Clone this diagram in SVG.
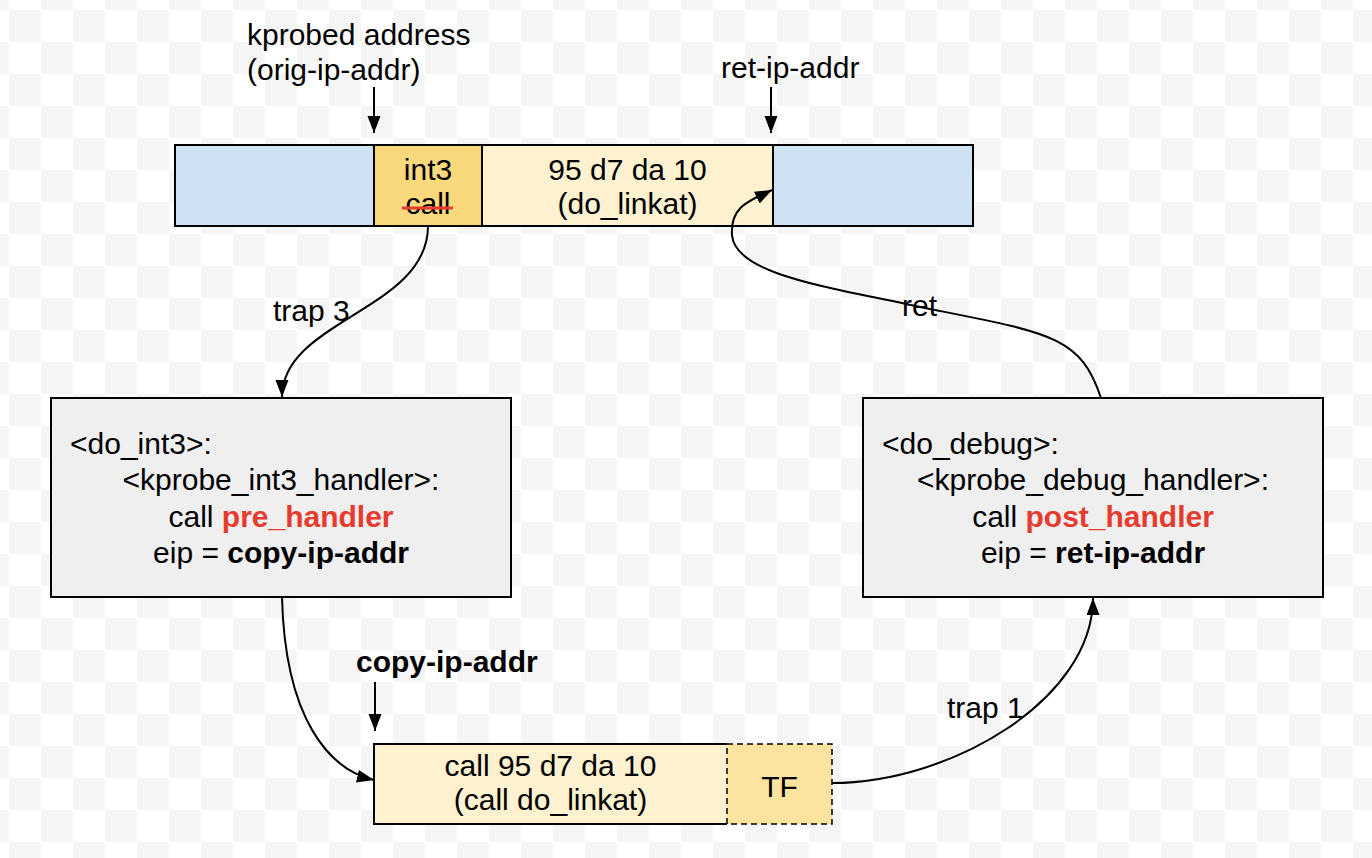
<svg xmlns="http://www.w3.org/2000/svg" width="1372" height="858" viewBox="0 0 1372 858">
<defs>
<pattern id="checker" patternUnits="userSpaceOnUse" x="9" y="10" width="64" height="64">
<rect width="64" height="64" fill="#ffffff"/>
<rect x="0" y="0" width="32" height="32" fill="#f5f5f5"/>
<rect x="32" y="32" width="32" height="32" fill="#f5f5f5"/>
</pattern>
<marker id="arr" markerUnits="userSpaceOnUse" markerWidth="18" markerHeight="14" refX="17" refY="6.5" orient="auto">
<path d="M0,0 L17,6.5 L0,13 z" fill="#000"/>
</marker>
<style>
text{font-family:"Liberation Sans",Arial,sans-serif;font-size:30px;fill:#000}
.c{text-anchor:middle}
.b{font-weight:bold}
.red{fill:#e63b2e;font-weight:bold}
.box{stroke:#000;stroke-width:2}
.blue{fill:#cfe2f3}
.y1{fill:#fad97c}
.y3{fill:#fdf1cf}
.gray{fill:#efefef}
.conn{fill:none;stroke:#000;stroke-width:2}
</style>
</defs>
<rect width="1372" height="858" fill="url(#checker)"/>

<g id="labels">
<text x="247" y="45">kprobed address</text>
<text x="247" y="80">(orig-ip-addr)</text>
<text x="721" y="78">ret-ip-addr</text>
<text x="356" y="672" class="b">copy-ip-addr</text>
</g>

<g id="bar-left">
<rect x="175" y="145" width="199" height="81" class="box blue"/>
</g>
<g id="bar-int3">
<rect x="374" y="145" width="108" height="81" class="box y1"/>
<text x="428" y="180" class="c">int3</text>
<text x="428" y="214" class="c">call</text>
<line x1="402" y1="208" x2="453" y2="208" stroke="#e63b2e" stroke-width="3"/>
</g>
<g id="bar-linkat">
<rect x="482" y="145" width="291" height="81" class="box y3"/>
<text x="627.5" y="180" class="c">95 d7 da 10</text>
<text x="627.5" y="214" class="c">(do_linkat)</text>
</g>
<g id="bar-right">
<rect x="773" y="145" width="200" height="81" class="box blue"/>
</g>

<g id="do-int3">
<rect x="51" y="398" width="460" height="199" class="box gray"/>
<text x="70" y="454">&lt;do_int3&gt;:</text>
<text x="281" y="490" class="c">&lt;kprobe_int3_handler&gt;:</text>
<text x="281" y="527" class="c">call <tspan class="red">pre_handler</tspan></text>
<text x="281" y="563" class="c">eip = <tspan class="b">copy-ip-addr</tspan></text>
</g>

<g id="do-debug">
<rect x="863" y="398" width="460" height="199" class="box gray"/>
<text x="882" y="454">&lt;do_debug&gt;:</text>
<text x="1093" y="490" class="c">&lt;kprobe_debug_handler&gt;:</text>
<text x="1093" y="527" class="c">call <tspan class="red">post_handler</tspan></text>
<text x="1093" y="563" class="c">eip = <tspan class="b">ret-ip-addr</tspan></text>
</g>

<g id="copy-call">
<rect x="374" y="744" width="353" height="80" class="y3"/>
<path d="M727,744 H374 V824 H727" class="conn"/>
<text x="550.5" y="776" class="c">call 95 d7 da 10</text>
<text x="550.5" y="810" class="c">(call do_linkat)</text>
</g>
<g id="tf">
<rect x="727" y="744" width="105" height="80" fill="#fce4a0" stroke="#000" stroke-width="1.5" stroke-dasharray="6,4"/>
<text x="779.5" y="797" class="c">TF</text>
</g>

<g id="connectors">
<line x1="374" y1="87" x2="374" y2="133" class="conn" marker-end="url(#arr)"/>
<line x1="771" y1="87" x2="771" y2="133" class="conn" marker-end="url(#arr)"/>
<line x1="375" y1="682" x2="375" y2="731" class="conn" marker-end="url(#arr)"/>
<path d="M428,226 C428,310 282,320 282,397" class="conn" marker-end="url(#arr)"/>
<path d="M282,597 C285,720 330,770 374,780" class="conn" marker-end="url(#arr)"/>
<path d="M832,783 C950,783 1093,700 1093,598" class="conn" marker-end="url(#arr)"/>
<path d="M1101,398 C1080,335 1050,333 920,307 C830,287 735,275 732,235 C730,205 752,200 772,190" class="conn" marker-end="url(#arr)"/>
<text x="273" y="321">trap 3</text>
<text x="947" y="718">trap 1</text>
<text x="902" y="316">ret</text>
</g>
</svg>
